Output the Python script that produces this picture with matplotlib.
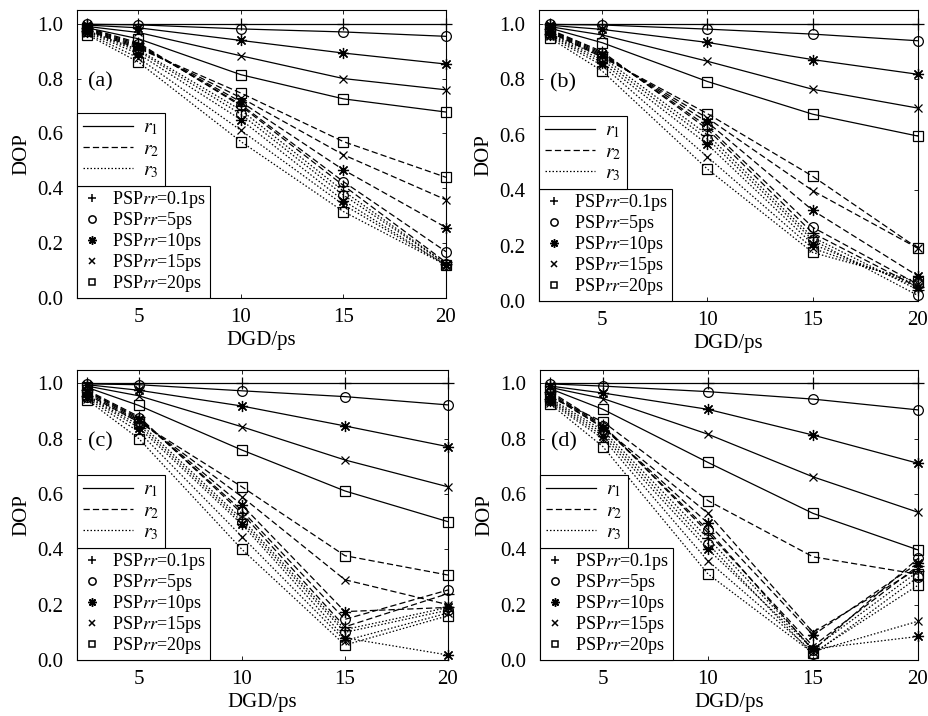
import matplotlib
matplotlib.use('Agg')
import matplotlib.pyplot as plt
from matplotlib.lines import Line2D

plt.rcParams['font.family'] = ['Liberation Serif', 'DejaVu Serif']
plt.rcParams['mathtext.fontset'] = 'stix'

# ---------------- data ----------------
dgd = [2.5, 5, 10, 15, 20]
psp = ['0.1', '5', '10', '15', '20']
tags = ['(a)', '(b)', '(c)', '(d)']

# rows: PSPrr = 0.1, 5, 10, 15, 20 ps
a_r1 = [[1.0, 1.0, 1.0, 1.0, 1.0],
        [0.998, 0.996, 0.981, 0.970, 0.954],
        [0.995, 0.985, 0.939, 0.893, 0.853],
        [0.990, 0.968, 0.883, 0.800, 0.759],
        [0.985, 0.945, 0.814, 0.726, 0.678]]
a_r2 = [[0.985, 0.930, 0.700, 0.410, 0.130],
        [0.983, 0.925, 0.705, 0.424, 0.169],
        [0.980, 0.920, 0.715, 0.467, 0.257],
        [0.978, 0.915, 0.730, 0.522, 0.358],
        [0.975, 0.910, 0.747, 0.570, 0.440]]
a_r3 = [[0.975, 0.905, 0.685, 0.390, 0.125],
        [0.972, 0.900, 0.670, 0.375, 0.125],
        [0.970, 0.890, 0.650, 0.355, 0.120],
        [0.965, 0.875, 0.611, 0.340, 0.120],
        [0.960, 0.860, 0.570, 0.315, 0.120]]

b_r1 = [[1.0, 1.0, 1.0, 1.0, 1.0],
        [0.998, 0.996, 0.981, 0.963, 0.939],
        [0.995, 0.980, 0.933, 0.871, 0.818],
        [0.990, 0.960, 0.865, 0.764, 0.696],
        [0.985, 0.932, 0.792, 0.674, 0.595]]
b_r2 = [[0.980, 0.900, 0.620, 0.245, 0.050],
        [0.978, 0.895, 0.630, 0.266, 0.060],
        [0.975, 0.890, 0.645, 0.327, 0.090],
        [0.972, 0.885, 0.660, 0.398, 0.190],
        [0.970, 0.880, 0.676, 0.450, 0.190]]
b_r3 = [[0.965, 0.880, 0.600, 0.230, 0.040],
        [0.962, 0.870, 0.585, 0.220, 0.020],
        [0.960, 0.860, 0.565, 0.205, 0.050],
        [0.955, 0.850, 0.520, 0.190, 0.060],
        [0.950, 0.830, 0.476, 0.175, 0.070]]

c_r1 = [[1.0, 1.0, 1.0, 1.0, 1.0],
        [0.998, 0.995, 0.973, 0.952, 0.922],
        [0.995, 0.975, 0.918, 0.846, 0.771],
        [0.990, 0.955, 0.843, 0.723, 0.626],
        [0.985, 0.920, 0.759, 0.611, 0.500]]
c_r2 = [[0.975, 0.880, 0.530, 0.120, 0.240],
        [0.972, 0.875, 0.540, 0.147, 0.253],
        [0.970, 0.870, 0.560, 0.175, 0.190],
        [0.965, 0.865, 0.590, 0.290, 0.200],
        [0.960, 0.860, 0.626, 0.377, 0.307]]
c_r3 = [[0.955, 0.860, 0.510, 0.110, 0.190],
        [0.952, 0.850, 0.500, 0.100, 0.180],
        [0.950, 0.840, 0.490, 0.080, 0.018],
        [0.945, 0.825, 0.446, 0.070, 0.170],
        [0.940, 0.800, 0.400, 0.054, 0.160]]

d_r1 = [[1.0, 1.0, 1.0, 1.0, 1.0],
        [0.998, 0.990, 0.970, 0.943, 0.904],
        [0.990, 0.965, 0.906, 0.813, 0.711],
        [0.985, 0.945, 0.816, 0.662, 0.534],
        [0.980, 0.906, 0.714, 0.530, 0.398]]
d_r2 = [[0.970, 0.850, 0.460, 0.050, 0.340],
        [0.965, 0.845, 0.470, 0.035, 0.367],
        [0.960, 0.840, 0.494, 0.090, 0.350],
        [0.955, 0.840, 0.530, 0.100, 0.330],
        [0.950, 0.861, 0.576, 0.373, 0.310]]
d_r3 = [[0.945, 0.830, 0.440, 0.040, 0.320],
        [0.940, 0.820, 0.420, 0.020, 0.300],
        [0.935, 0.810, 0.400, 0.040, 0.085],
        [0.930, 0.800, 0.358, 0.030, 0.140],
        [0.925, 0.771, 0.311, 0.025, 0.270]]

panels = [(a_r1, a_r2, a_r3), (b_r1, b_r2, b_r3),
          (c_r1, c_r2, c_r3), (d_r1, d_r2, d_r3)]

# ---------------- styles ----------------
markers = ['+', 'o', (8, 2, 0), 'x', 's']
msizes = [8, 7, 8, 6, 6.5]
lstyles = ['-', (0, (5, 2.5)), (0, (1.2, 1.6))]
rlabels = ['$r_1$', '$r_2$', '$r_3$']

W, H = 929, 716
boxes = [(77, 10, 446, 298), (539, 10, 918, 301),
         (77, 369.5, 448, 660), (540, 369.5, 918, 660)]

fig = plt.figure(figsize=(W / 100, H / 100), dpi=100)

for (l, t, r, b), data, tag in zip(boxes, panels, tags):
    ax = fig.add_axes([l / W, 1 - b / H, (r - l) / W, (b - t) / H])
    for k, series in enumerate(data):
        for j, yv in enumerate(series):
            ax.plot(dgd, yv, color='black', lw=0.9, ls=lstyles[k],
                    marker=markers[j], ms=msizes[j], mfc='none', mec='black',
                    mew=0.9, clip_on=False, zorder=3)
    ax.set_xlim(2, 20)
    ax.set_ylim(0, 1.05)
    ax.set_xticks([5, 10, 15, 20])
    ax.set_yticks([0, 0.2, 0.4, 0.6, 0.8, 1.0])
    ax.set_yticklabels(['0.0', '0.2', '0.4', '0.6', '0.8', '1.0'])
    ax.tick_params(direction='in', top=True, right=True, length=3, width=0.6,
                   labelsize=15)
    ax.tick_params(axis='y', pad=10)
    ax.tick_params(axis='x', pad=7)
    for s in ax.spines.values():
        s.set_linewidth(0.8)
    ax.set_xlabel('DGD/ps', fontsize=15, labelpad=3)
    ax.set_ylabel('DOP', fontsize=15, labelpad=4)
    ax.text(0.03, 0.75, tag, transform=ax.transAxes, fontsize=16,
            ha='left', va='center')

    mk_handles = [Line2D([], [], ls='none', marker=markers[j], ms=msizes[j] * 0.75,
                         mfc='none', mec='black', mew=1.1, color='black')
                  for j in range(5)]
    mk_labels = ['PSP$rr$=%sps' % p for p in psp]
    leg2 = ax.legend(mk_handles, mk_labels, loc='lower left',
                     bbox_to_anchor=(0, 0), borderaxespad=0, fontsize=13,
                     labelspacing=0.0, handlelength=1.3, handletextpad=0.45,
                     borderpad=0.2, fancybox=False, framealpha=1,
                     edgecolor='black')
    leg2.get_frame().set_linewidth(0.8)
    leg2.set_zorder(5)
    ax.add_artist(leg2)

    fig.canvas.draw()
    bb = leg2.get_window_extent().transformed(ax.transAxes.inverted())
    ln_handles = [Line2D([], [], color='black', lw=0.9, ls=lstyles[k])
                  for k in range(3)]
    leg1 = ax.legend(ln_handles, rlabels, loc='lower left',
                     bbox_to_anchor=(0, bb.y1), borderaxespad=0, fontsize=14,
                     labelspacing=0.15, handlelength=2.6, handletextpad=0.5,
                     borderpad=0.3, fancybox=False, framealpha=1,
                     edgecolor='black')
    leg1.get_frame().set_linewidth(0.8)
    leg1.set_zorder(5)

fig.savefig('out.png', dpi=100)
